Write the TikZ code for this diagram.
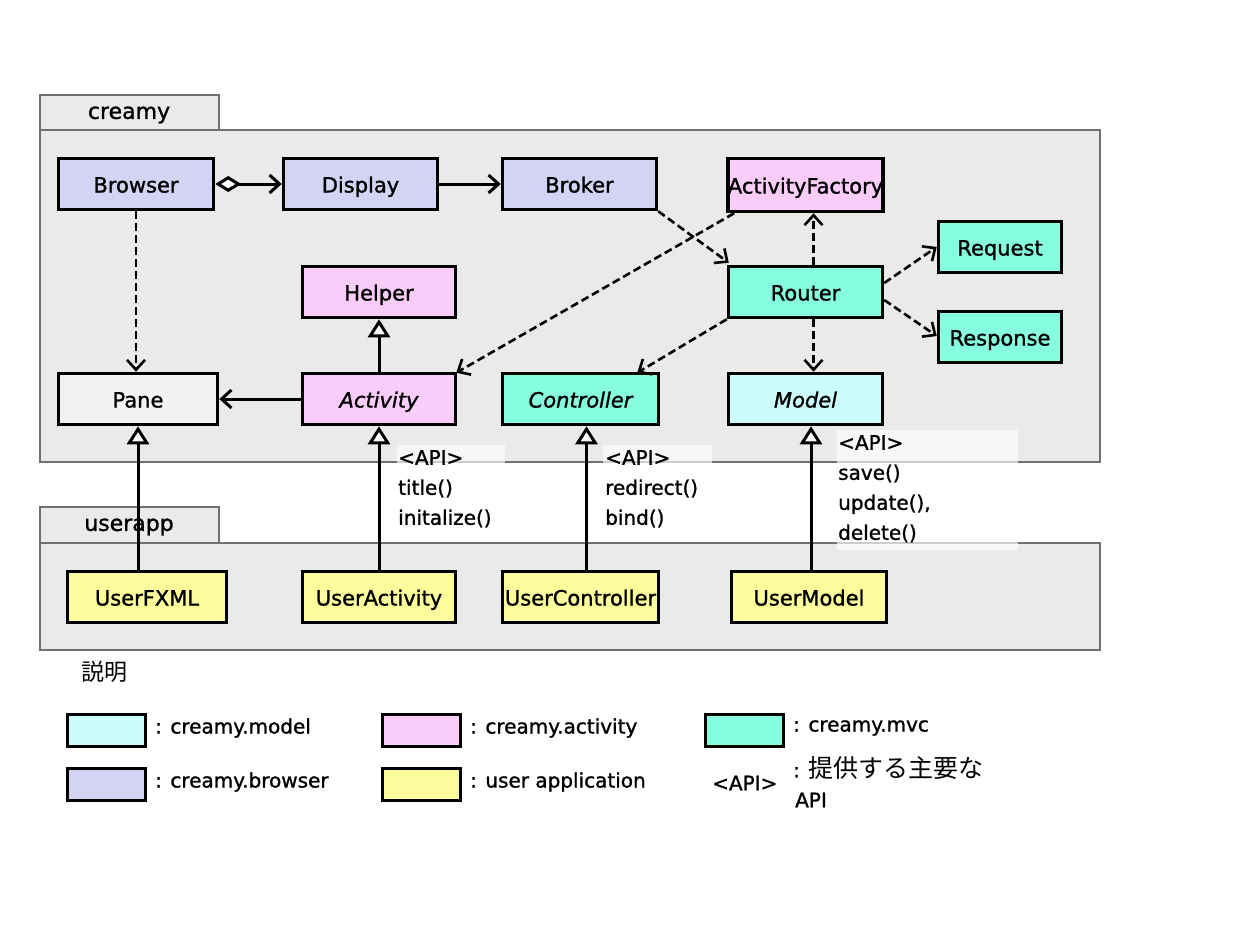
\documentclass[tikz,border=0pt]{standalone}
\usepackage{fontspec}
\setmainfont{DejaVu Sans}[FakeBold=1.2, ItalicFont=DejaVu Sans Oblique, ItalicFeatures={FakeBold=1.2}]
\newfontfamily\cjk{Noto Sans CJK JP}
\usetikzlibrary{arrows.meta}
\definecolor{pkgfill}{HTML}{EAEAEA}
\definecolor{pkgline}{HTML}{707070}
\definecolor{cbrowser}{HTML}{D3D3F3}
\definecolor{cactivity}{HTML}{FACCFA}
\definecolor{cmvc}{HTML}{86FDDF}
\definecolor{cmodel}{HTML}{CCFCFC}
\definecolor{cuser}{HTML}{FCFC9C}
\definecolor{cpane}{HTML}{F2F2F2}
\tikzset{
  pkg/.style={draw=pkgline, fill=pkgfill, line width=2.5pt},
  cls/.style={draw=black, line width=3.5pt, inner sep=0pt, minimum height=51pt, text height=17pt, text depth=0pt, font=\fontsize{21}{24}\selectfont},
  legbox/.style={draw=black, line width=3.5pt, inner sep=0pt, minimum width=78pt, minimum height=32pt},
  legtxt/.style={anchor=west, inner sep=0pt, font=\fontsize{20}{24}\selectfont},
  apitxt/.style={anchor=north west, inner sep=0pt, align=left, font=\fontsize{20}{30}\selectfont},
  apibg/.style={fill=white, opacity=0.65, draw=none},
  conn/.style={line width=3pt, draw=black},
  dep/.style={line width=2.6pt, draw=black, dash pattern=on 8pt off 4pt, -{Straight Barb[length=10pt,width=18pt,line width=2.6pt]}},
  nav/.style={conn, -{Straight Barb[length=10pt,width=18pt]}},
  inh/.style={conn, -{Triangle[open,length=18pt,width=22pt,fill=white]}},
  agg/.style={conn, {Diamond[open,length=26pt,width=16pt,fill=white]}-{Straight Barb[length=10pt,width=18pt]}},
}
\begin{document}
\begin{tikzpicture}[x=1pt,y=-1pt]
\useasboundingbox[fill=white] (0,0) rectangle (1257,942);
% packages
\draw[pkg] (40,95) rectangle (219,130);
\draw[pkg] (40,130) rectangle (1100,462);
\node[font=\fontsize{22}{24}\selectfont] (creamylbl) at (129,115) {creamy};
\draw[pkg] (40,507) rectangle (219,543);
\draw[pkg] (40,543) rectangle (1100,650);
\node[font=\fontsize{22}{24}\selectfont] (userlbl) at (129,527) {userapp};
% API label backgrounds
\fill[apibg] (397,445) rectangle (505,540);
\fill[apibg] (603,445) rectangle (712,536);
\fill[apibg] (837,430) rectangle (1018,550);
\node[apitxt] (api1) at (398,450) {<API>\\title()\\initalize()};
\node[apitxt] (api2) at (605,450) {<API>\\redirect()\\bind()};
\node[apitxt] (api3) at (838,435) {<API>\\save()\\update(),\\delete()};
% classes
\node[cls, fill=cbrowser, minimum width=155pt] (browser) at (136,184) {Browser};
\node[cls, fill=cbrowser, minimum width=154pt] (display) at (360.5,184) {Display};
\node[cls, fill=cbrowser, minimum width=154pt] (broker) at (579.5,184) {Broker};
\node[cls, fill=cactivity, minimum width=154pt, minimum height=53pt] (factory) at (805.5,185) {ActivityFactory};
\node[cls, fill=cmvc, minimum width=123pt] (request) at (1000,247) {Request};
\node[cls, fill=cmvc, minimum width=123pt] (response) at (1000,337) {Response};
\node[cls, fill=cmvc, minimum width=154pt] (router) at (805.5,292) {Router};
\node[cls, fill=cactivity, minimum width=153pt] (helper) at (379,292) {Helper};
\node[cls, fill=cpane, minimum width=159pt] (pane) at (138,399) {Pane};
\node[cls, fill=cactivity, minimum width=153pt] (activity) at (379,399) {\itshape Activity};
\node[cls, fill=cmvc, minimum width=156pt] (controller) at (580.5,399) {\itshape Controller};
\node[cls, fill=cmodel, minimum width=154pt] (model) at (805.5,399) {\itshape Model};
\node[cls, fill=cuser, minimum width=159pt] (userfxml) at (147,597) {UserFXML};
\node[cls, fill=cuser, minimum width=153pt] (useractivity) at (379,597) {UserActivity};
\node[cls, fill=cuser, minimum width=156pt] (usercontroller) at (580.5,597) {UserController};
\node[cls, fill=cuser, minimum width=155pt] (usermodel) at (809,597) {UserModel};
% connectors
\draw[agg] (browser.east) -- (display.west);
\draw[nav] (display.east) -- (broker.west);
\draw[dep] (broker.south east) -- ([xshift=2pt,yshift=2pt]router.north west);
\draw[dep] ([xshift=8pt]router.north) -- ([xshift=8pt]factory.south);
\draw[dep] ([xshift=8pt]factory.south west) -- ([xshift=-1pt,yshift=-1pt]activity.north east);
\draw[dep] ([yshift=9pt]router.east) -- (request.west);
\draw[dep] ([yshift=-8pt]router.east) -- ([yshift=1pt]response.west);
\draw[dep] (router.south west) -- ([xshift=-23pt,yshift=-1pt]controller.north east);
\draw[dep] ([xshift=8pt]router.south) -- ([xshift=8pt]model.north);
\draw[dep] (browser.south) -- (browser.south |- pane.north);
\draw[nav] (activity.west) -- (pane.east);
\draw[inh] (activity.north) -- (helper.south);
\draw[inh] (pane.south |- userfxml.north) -- (pane.south);
\draw[inh] (useractivity.north) -- (activity.south);
\draw[inh] ([xshift=6pt]usercontroller.north) -- ([xshift=6pt]controller.south);
\draw[inh] ([xshift=2pt]usermodel.north) -- ([xshift=5.5pt]model.south);
% legend
\node[font=\cjk\fontsize{23}{26}\selectfont] (legtitle) at (104,672) {説明};
\node[legbox, fill=cmodel] (lmodel) at (106.5,730.5) {};
\node[legtxt] (tmodel) at (155,728) {: creamy.model};
\node[legbox, fill=cactivity] (lactivity) at (421.5,730.5) {};
\node[legtxt] (tactivity) at (470,728) {: creamy.activity};
\node[legbox, fill=cmvc] (lmvc) at (744.5,730.5) {};
\node[legtxt] (tmvc) at (793,728) {: creamy.mvc};
\node[legbox, fill=cbrowser] (lbrowser) at (106.5,784.5) {};
\node[legtxt] (tbrowser) at (155,782) {: creamy.browser};
\node[legbox, fill=cuser] (luser) at (421.5,784.5) {};
\node[legtxt] (tuser) at (470,782) {: user application};
\node[legtxt] (tapi) at (712,783) {<API>};
\node[legtxt] (tapidesc) at (793,768) {: {\cjk\fontsize{25}{26}\selectfont 提供する主要な}};
\node[legtxt] (tapi2) at (795,800) {API};
\end{tikzpicture}
\end{document}
